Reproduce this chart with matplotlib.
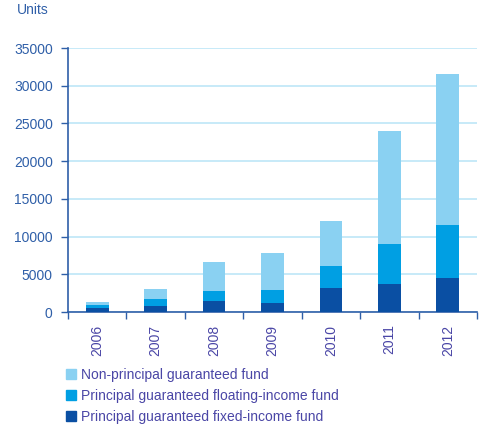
import matplotlib
matplotlib.use("Agg")
import matplotlib.pyplot as plt
import numpy as np
from matplotlib.patches import Patch

years = ["2006", "2007", "2008", "2009", "2010", "2011", "2012"]
fixed_income = [550, 800, 1450, 1200, 3180, 3700, 4500]
floating_income = [400, 930, 1330, 1720, 2920, 5300, 7030]
non_principal = [400, 1320, 3850, 4900, 5960, 15000, 20020]
y_ticks = [0, 5000, 10000, 15000, 20000, 25000, 30000, 35000]

c_fixed = "#0A4FA3"
c_float = "#009FE3"
c_non = "#8AD1F2"
c_grid = "#BDE6F7"
c_axis = "#2F5FA8"
c_ylab = "#2F5FA8"
c_xlab = "#4A46A6"

plt.rcParams["font.family"] = ["Liberation Sans", "DejaVu Sans"]

fig = plt.figure(figsize=(4.85, 4.28), dpi=100)
ax = fig.add_axes([68/485, 1-312/428, (477-68)/485, (312-48)/428])

x = np.arange(len(years))
w = 0.39
fi = np.array(fixed_income)
fl = np.array(floating_income)
nn = np.array(non_principal)
ax.bar(x, fi, w, color=c_fixed, zorder=3)
ax.bar(x, fl, w, bottom=fi, color=c_float, zorder=3)
ax.bar(x, nn, w, bottom=fi+fl, color=c_non, zorder=3)

ax.set_xlim(-0.5, len(years)-0.5)
ax.set_ylim(0, 35000)
ax.set_yticks(y_ticks)
ax.set_yticklabels([str(v) for v in y_ticks], fontsize=10, color=c_ylab)
ax.yaxis.grid(True, color=c_grid, linewidth=1.2, zorder=0)
ax.tick_params(axis="y", length=5, width=1, color=c_axis, pad=6)

ax.set_xticks(x)
ax.set_xticklabels(years, rotation=90, fontsize=10, color=c_xlab)
ax.tick_params(axis="x", which="major", length=0, pad=9)
ax.set_xticks(np.arange(len(years)+1)-0.5, minor=True)
ax.tick_params(axis="x", which="minor", length=5, width=1, color=c_axis)

for s in ["top", "right"]:
    ax.spines[s].set_visible(False)
for s in ["left", "bottom"]:
    ax.spines[s].set_color(c_axis)
    ax.spines[s].set_linewidth(1.2)

fig.text(17/485, 1-10/428, "Units", fontsize=10, color=c_ylab, va="center", ha="left")

handles = [Patch(color=c_non), Patch(color=c_float), Patch(color=c_fixed)]
labels = ["Non-principal guaranteed fund",
          "Principal guaranteed floating-income fund",
          "Principal guaranteed fixed-income fund"]
leg = fig.legend(handles, labels, loc="upper left", bbox_to_anchor=(66/485, 1-368/428),
                 frameon=False, fontsize=10, handlelength=0.75, handleheight=0.75,
                 handletextpad=0.35, labelspacing=0.5, borderaxespad=0, borderpad=0)
for t in leg.get_texts():
    t.set_color(c_xlab)

fig.savefig("out.png", dpi=100)
